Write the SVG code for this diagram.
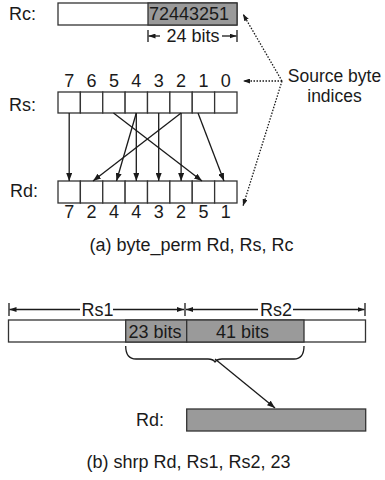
<svg xmlns="http://www.w3.org/2000/svg" width="385" height="480" viewBox="0 0 385 480">
<style>
text{font-family:"Liberation Sans",Arial,sans-serif;font-size:18px;fill:#1a1a1a}
.c{text-anchor:middle}
.sl{font-size:17.5px}
.box{fill:#fff;stroke:#333;stroke-width:1.3}
.gray{fill:#9a9a9a;stroke:#333;stroke-width:1.3}
.ln{stroke:#1a1a1a;stroke-width:1.3;fill:none}
.dot{stroke:#1a1a1a;stroke-width:1.3;fill:none;stroke-dasharray:1.5 1.5}
</style>
<defs>
<marker id="ah" viewBox="0 0 8 6" refX="8" refY="3" markerWidth="8" markerHeight="6" markerUnits="userSpaceOnUse" orient="auto-start-reverse">
<path d="M0,0 L8,3 L0,6 z" fill="#1a1a1a"/>
</marker>
<marker id="ahs" viewBox="0 0 7 5" refX="7" refY="2.5" markerWidth="7" markerHeight="5" markerUnits="userSpaceOnUse" orient="auto-start-reverse">
<path d="M0,0 L7,2.5 L0,5 z" fill="#1a1a1a"/>
</marker>
</defs>

<g id="rc">
<text x="9" y="19.5">Rc:</text>
<rect class="box" x="58" y="3" width="179" height="22"/>
<rect class="gray" x="148" y="3" width="89" height="22"/>
<text x="149" y="19.5">72443251</text>
</g>

<g id="rc-width">
<line class="ln" x1="148" y1="30" x2="148" y2="42"/>
<line class="ln" x1="237" y1="30" x2="237" y2="42"/>
<line class="ln" x1="160" y1="36" x2="148.5" y2="36" marker-end="url(#ahs)"/>
<line class="ln" x1="222" y1="36" x2="236.5" y2="36" marker-end="url(#ahs)"/>
<text x="193" y="41.7" class="c">24 bits</text>
</g>

<g id="rs">
<text x="9" y="110.5">Rs:</text>
<rect class="box" x="58" y="92" width="22.375" height="21"/>
<rect class="box" x="80.375" y="92" width="22.375" height="21"/>
<rect class="box" x="102.75" y="92" width="22.375" height="21"/>
<rect class="box" x="125.125" y="92" width="22.375" height="21"/>
<rect class="box" x="147.5" y="92" width="22.375" height="21"/>
<rect class="box" x="169.875" y="92" width="22.375" height="21"/>
<rect class="box" x="192.25" y="92" width="22.375" height="21"/>
<rect class="box" x="214.625" y="92" width="22.375" height="21"/>
<text class="c" x="69.2" y="87">7</text>
<text class="c" x="91.6" y="87">6</text>
<text class="c" x="113.9" y="87">5</text>
<text class="c" x="136.3" y="87">4</text>
<text class="c" x="158.7" y="87">3</text>
<text class="c" x="181.1" y="87">2</text>
<text class="c" x="203.4" y="87">1</text>
<text class="c" x="225.8" y="87">0</text>
</g>

<g id="rd-a">
<text x="10" y="197">Rd:</text>
<rect class="box" x="58" y="181" width="22.375" height="22"/>
<rect class="box" x="80.375" y="181" width="22.375" height="22"/>
<rect class="box" x="102.75" y="181" width="22.375" height="22"/>
<rect class="box" x="125.125" y="181" width="22.375" height="22"/>
<rect class="box" x="147.5" y="181" width="22.375" height="22"/>
<rect class="box" x="169.875" y="181" width="22.375" height="22"/>
<rect class="box" x="192.25" y="181" width="22.375" height="22"/>
<rect class="box" x="214.625" y="181" width="22.375" height="22"/>
<text class="c" x="69.2" y="218">7</text>
<text class="c" x="91.6" y="218">2</text>
<text class="c" x="113.9" y="218">4</text>
<text class="c" x="136.3" y="218">4</text>
<text class="c" x="158.7" y="218">3</text>
<text class="c" x="181.1" y="218">2</text>
<text class="c" x="203.4" y="218">5</text>
<text class="c" x="225.8" y="218">1</text>
</g>

<g id="source-label">
<text class="c sl" x="334.5" y="82">Source byte</text>
<text class="c sl" x="334.5" y="102">indices</text>
</g>

<g id="connectors">
<line class="ln" x1="69.2" y1="113" x2="69.2" y2="181" marker-end="url(#ah)"/>
<line class="ln" x1="181.1" y1="113" x2="93" y2="181" marker-end="url(#ah)"/>
<line class="ln" x1="136.3" y1="113" x2="116.5" y2="181" marker-end="url(#ah)"/>
<line class="ln" x1="136.3" y1="113" x2="136.3" y2="181" marker-end="url(#ah)"/>
<line class="ln" x1="158.7" y1="113" x2="158.7" y2="181" marker-end="url(#ah)"/>
<line class="ln" x1="181.1" y1="113" x2="181.1" y2="181" marker-end="url(#ah)"/>
<line class="ln" x1="113.5" y1="113" x2="202" y2="181" marker-end="url(#ah)"/>
<line class="ln" x1="198" y1="113" x2="224" y2="181" marker-end="url(#ah)"/>
<line class="dot" x1="282" y1="81" x2="243" y2="14" marker-end="url(#ahs)"/>
<line class="dot" x1="282" y1="81" x2="243" y2="81" marker-end="url(#ahs)"/>
<line class="dot" x1="282" y1="81" x2="243" y2="206" marker-end="url(#ahs)"/>
<path class="ln" d="M215,359 L275,408" marker-end="url(#ah)"/>
</g>

<text id="caption-a" class="c" x="191.5" y="251">(a) byte_perm Rd, Rs, Rc</text>

<g id="dims-b">
<line class="ln" x1="9" y1="303" x2="9" y2="316"/>
<line class="ln" x1="185" y1="303" x2="185" y2="316"/>
<line class="ln" x1="365" y1="303" x2="365" y2="316"/>
<line class="ln" x1="80" y1="309.5" x2="9.5" y2="309.5" marker-end="url(#ahs)"/>
<line class="ln" x1="113" y1="309.5" x2="184" y2="309.5" marker-end="url(#ahs)"/>
<line class="ln" x1="258" y1="309.5" x2="186" y2="309.5" marker-end="url(#ahs)"/>
<line class="ln" x1="293" y1="309.5" x2="364.5" y2="309.5" marker-end="url(#ahs)"/>
<text x="81.5" y="315.5">Rs1</text>
<text x="260" y="315.5">Rs2</text>
</g>

<g id="rs1rs2">
<rect class="box" x="8.5" y="320" width="357" height="22"/>
<rect class="gray" x="125.7" y="320" width="61" height="22"/>
<rect class="gray" x="186.7" y="320" width="117.3" height="22"/>
<text class="c" x="155" y="337.5">23 bits</text>
<text class="c" x="242.5" y="337.5">41 bits</text>
</g>

<path id="brace" class="ln" d="M125.7,346 Q125.7,359 136,359 L208,359 Q213,359 215,362 Q217,359 222,359 L294,359 Q304,359 304,346"/>

<g id="rd-b">
<text x="136" y="426">Rd:</text>
<rect class="gray" x="186.7" y="409" width="179" height="22"/>
</g>

<text id="caption-b" class="c" x="188.5" y="468">(b) shrp Rd, Rs1, Rs2, 23</text>
</svg>
